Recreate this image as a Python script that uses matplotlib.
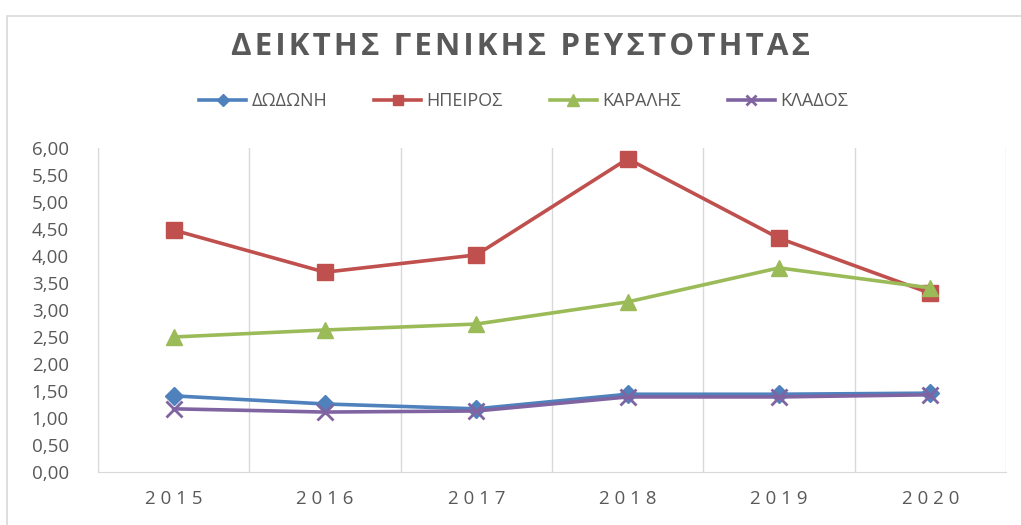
import matplotlib.pyplot as plt
from matplotlib.patches import Rectangle

years = ['2015', '2016', '2017', '2018', '2019', '2020']
dodoni = [1.41, 1.26, 1.17, 1.44, 1.44, 1.46]
ipeiros = [4.48, 3.70, 4.02, 5.80, 4.33, 3.31]
karalis = [2.50, 2.63, 2.74, 3.15, 3.78, 3.41]
klados = [1.17, 1.11, 1.13, 1.39, 1.39, 1.43]

series = [
    ('ΔΩΔΩΝΗ', dodoni, '#4F81BD', 'D', 9),
    ('ΗΠΕΙΡΟΣ', ipeiros, '#C0504D', 's', 11),
    ('ΚΑΡΑΛΗΣ', karalis, '#9BBB59', '^', 12),
    ('ΚΛΑΔΟΣ', klados, '#8064A2', 'x', 11),
]

txt = '#595959'
plt.rcParams['font.family'] = ['Open Sans', 'DejaVu Sans']

fig = plt.figure(figsize=(10.21, 5.25), dpi=100)
fig.patches.append(Rectangle((7 / 1021, -0.1), 1.2, 1 - 16 / 525 + 0.1,
                             transform=fig.transFigure, fill=False,
                             edgecolor='#D9D9D9', linewidth=1.2))

ax = fig.add_axes([98 / 1021, 1 - 472 / 525, 908 / 1021, 324 / 525])
x = range(len(years))
for name, vals, color, marker, ms in series:
    ax.plot(x, vals, color=color, marker=marker, markersize=ms, linewidth=2.6,
            markeredgewidth=2 if marker == 'x' else 1, label=name, zorder=3)

ax.set_xlim(-0.5, 5.5)
ax.set_ylim(0, 6)
ax.set_yticks([i * 0.5 for i in range(13)])
ax.set_yticklabels([f'{i * 0.5:.2f}'.replace('.', ',') for i in range(13)],
                   color=txt, fontsize=13.5)
ax.set_xticks(list(x))
ax.set_xticklabels([' '.join(y) for y in years], color=txt, fontsize=13.5)
ax.set_xticks([i + 0.5 for i in range(-1, 6)], minor=True)
ax.tick_params(which='both', length=0)
ax.tick_params(axis='x', pad=13)
ax.tick_params(axis='y', pad=21)
ax.grid(axis='x', which='minor', color='#D9D9D9', linewidth=1)
for s in ['top', 'right']:
    ax.spines[s].set_visible(False)
for s in ['left', 'bottom']:
    ax.spines[s].set_color('#D9D9D9')

fig.text(0.51, 1 - 47 / 525, '\u200a'.join('ΔΕΙΚΤΗΣ ΓΕΝΙΚΗΣ ΡΕΥΣΤΟΤΗΤΑΣ'),
         ha='center', va='center', fontsize=22.5, fontweight='bold', color=txt)
fig.legend(loc='center', bbox_to_anchor=(0.513, 1 - 101 / 525), ncol=4,
           frameon=False, fontsize=13, handlelength=2.6, columnspacing=2.6,
           labelcolor=txt, handletextpad=0.3, markerscale=0.7)

fig.savefig('out.png', dpi=100)
